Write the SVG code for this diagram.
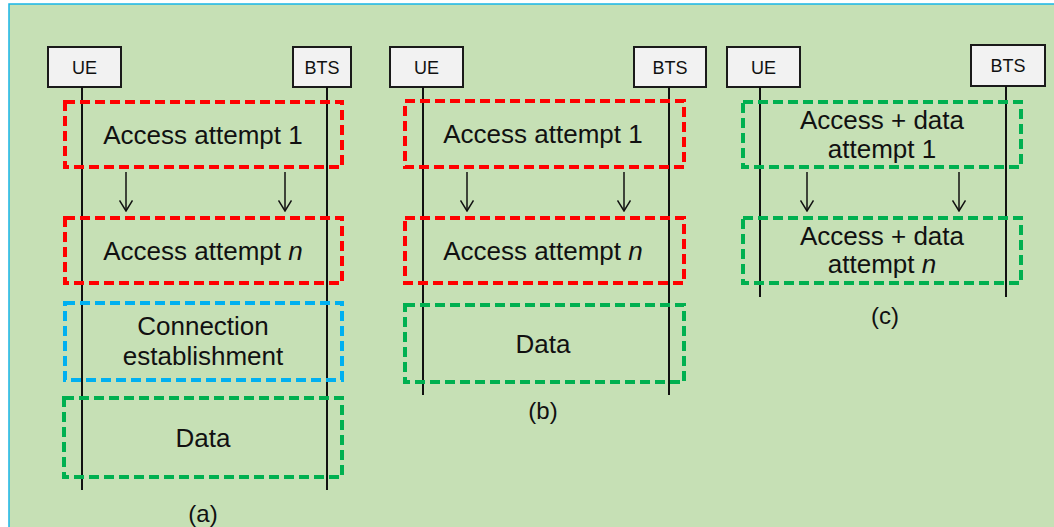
<svg xmlns="http://www.w3.org/2000/svg" width="1054" height="527" viewBox="0 0 1054 527">
<style>
.bg{fill:#c6e0b5}
.ent{fill:#f2f2f2;stroke:#1a1a1a;stroke-width:2}
.life{stroke:#111;stroke-width:2;fill:none}
.dr{fill:none;stroke:#ff0000;stroke-width:4;stroke-dasharray:10 5}
.dg{fill:none;stroke:#00b050;stroke-width:4;stroke-dasharray:10 5}
.db{fill:none;stroke:#00b0f0;stroke-width:4;stroke-dasharray:10 5}
.arr{stroke:#111;stroke-width:1.5;fill:none}
text{font-family:"Liberation Sans",Arial,sans-serif;fill:#111;text-anchor:middle}
.lbl{font-size:18px}
.big{font-size:26px}
.cap{font-size:24px}
</style>
<defs>
<marker id="ah" markerWidth="12" markerHeight="14" refX="11" refY="7" orient="auto" markerUnits="userSpaceOnUse" viewBox="0 0 12 14">
<path d="M0.5,0.5 L11,7 L0.5,13.5" fill="none" stroke="#111" stroke-width="1.5"/>
</marker>
</defs>
<rect x="0" y="0" width="1054" height="527" fill="#ffffff"/>
<rect x="9" y="4" width="1046" height="524" class="bg"/>
<path d="M9,527 V4 H1054" fill="none" stroke="#19b5e6" stroke-width="1.5"/>

<g id="panel-a">
<g id="a-ue"><rect x="48" y="47" width="73" height="40" class="ent"/><text x="84.5" y="74" class="lbl">UE</text></g>
<g id="a-bts"><rect x="293" y="47" width="58" height="40" class="ent"/><text x="322" y="74" class="lbl">BTS</text></g>
<g id="a-lifelines"><line x1="82" y1="87" x2="82" y2="490" class="life"/><line x1="327" y1="87" x2="327" y2="490" class="life"/></g>
<g id="a-att1"><rect x="65" y="102" width="277" height="65" class="dr"/><text x="203" y="144" class="big">Access attempt 1</text></g>
<g id="a-attn"><rect x="65" y="218" width="277" height="65" class="dr"/><text x="203" y="260" class="big">Access attempt <tspan font-style="italic">n</tspan></text></g>
<g id="a-conn"><rect x="65" y="303" width="277" height="77" class="db"/><text x="203" y="335" class="big">Connection</text><text x="203" y="365" class="big">establishment</text></g>
<g id="a-data"><rect x="64" y="398" width="278" height="79" class="dg"/><text x="203" y="447" class="big">Data</text></g>
<text x="203" y="522" class="cap">(a)</text>
</g>

<g id="panel-b">
<g id="b-ue"><rect x="390" y="47" width="73" height="40" class="ent"/><text x="426.5" y="74" class="lbl">UE</text></g>
<g id="b-bts"><rect x="634" y="47" width="72" height="40" class="ent"/><text x="670" y="74" class="lbl">BTS</text></g>
<g id="b-lifelines"><line x1="423" y1="87" x2="423" y2="395" class="life"/><line x1="669" y1="87" x2="669" y2="395" class="life"/></g>
<g id="b-att1"><rect x="405" y="101" width="279" height="66" class="dr"/><text x="543" y="143" class="big">Access attempt 1</text></g>
<g id="b-attn"><rect x="405" y="218" width="279" height="65" class="dr"/><text x="543" y="260" class="big">Access attempt <tspan font-style="italic">n</tspan></text></g>
<g id="b-data"><rect x="405" y="305" width="279" height="77" class="dg"/><text x="543" y="353" class="big">Data</text></g>
<text x="543" y="419" class="cap">(b)</text>
</g>

<g id="panel-c">
<g id="c-ue"><rect x="727" y="47" width="73" height="40" class="ent"/><text x="763.5" y="74" class="lbl">UE</text></g>
<g id="c-bts"><rect x="971" y="45" width="74" height="41" class="ent"/><text x="1008" y="72" class="lbl">BTS</text></g>
<g id="c-lifelines"><line x1="760" y1="87" x2="760" y2="297" class="life"/><line x1="1006" y1="86" x2="1006" y2="297" class="life"/></g>
<g id="c-att1"><rect x="743" y="102" width="278" height="65" class="dg"/><text x="882" y="129" class="big">Access + data</text><text x="882" y="158" class="big">attempt 1</text></g>
<g id="c-attn"><rect x="743" y="218" width="278" height="65" class="dg"/><text x="882" y="245" class="big">Access + data</text><text x="882" y="273" class="big">attempt <tspan font-style="italic">n</tspan></text></g>
<text x="885" y="324" class="cap">(c)</text>
</g>

<g id="connectors">
<line x1="126" y1="172" x2="126" y2="211" class="arr" marker-end="url(#ah)"/>
<line x1="285" y1="172" x2="285" y2="211" class="arr" marker-end="url(#ah)"/>
<line x1="467" y1="172" x2="467" y2="211" class="arr" marker-end="url(#ah)"/>
<line x1="624" y1="172" x2="624" y2="211" class="arr" marker-end="url(#ah)"/>
<line x1="807" y1="172" x2="807" y2="211" class="arr" marker-end="url(#ah)"/>
<line x1="959" y1="172" x2="959" y2="211" class="arr" marker-end="url(#ah)"/>
</g>
</svg>
